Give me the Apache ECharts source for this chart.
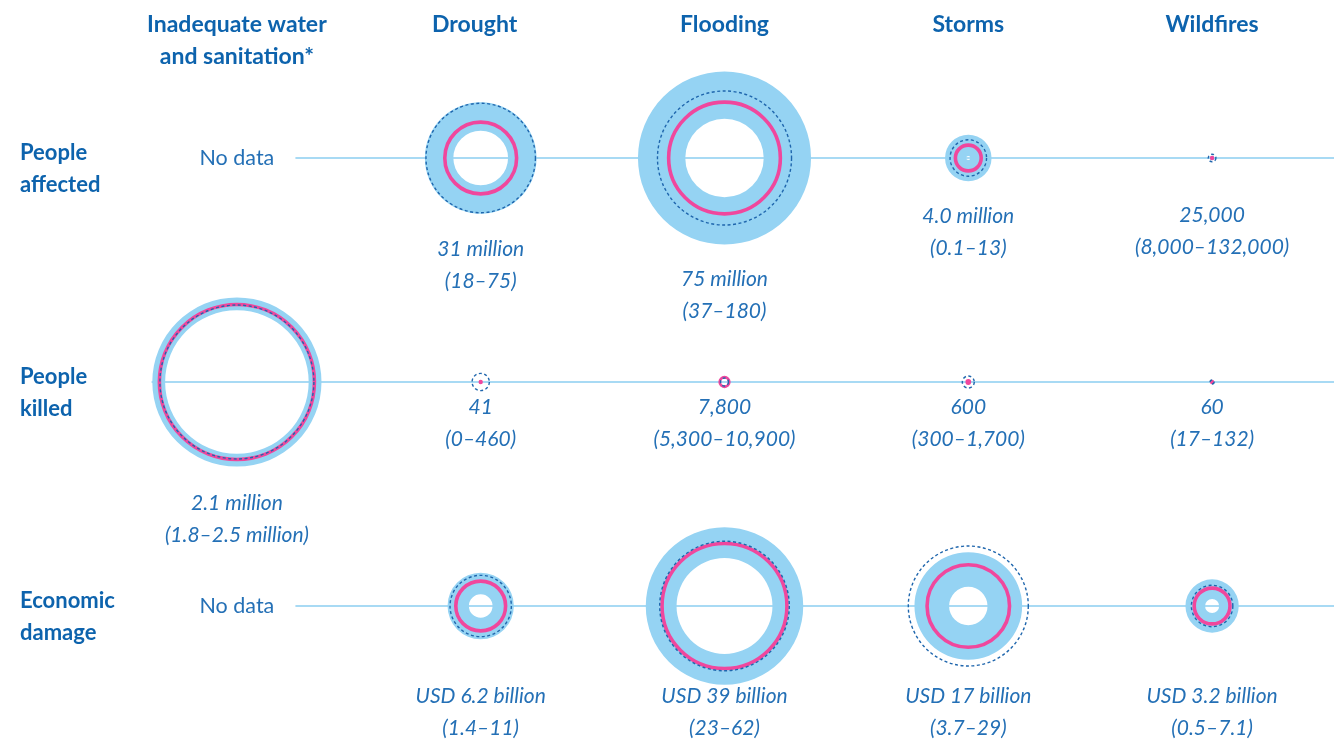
<!DOCTYPE html>
<html>
<head>
<meta charset="utf-8">
<script src="https://cdn.jsdelivr.net/npm/echarts@6/dist/echarts.min.js"></script>
<style>html,body{margin:0;padding:0;background:#fff;}#main{width:1334px;height:740px;}</style>
</head>
<body>
<div id="main"></div>
<script>
// ---- data ----
const columns = ['Inadequate water\nand sanitation*', 'Drought', 'Flooding', 'Storms', 'Wildfires'];
const rows = ['People\naffected', 'People\nkilled', 'Economic\ndamage'];

// People affected (millions)
const affectedCentral = [null, 31, 75, 4.0, 0.025];
const affectedLow     = [null, 18, 37, 0.1, 0.008];
const affectedHigh    = [null, 75, 180, 13, 0.132];
const affectedAlt     = [null, 72, 108, 8, 0.35];
const affectedMain  = ['No data', '31 million', '75 million', '4.0 million', '25,000'];
const affectedRange = ['', '(18–75)', '(37–180)', '(0.1–13)', '(8,000–132,000)'];

// People killed
const killedCentral = [2100000, 41, 7800, 600, 60];
const killedLow     = [1800000, 0, 5300, 300, 17];
const killedHigh    = [2500000, 460, 10900, 1700, 132];
const killedAlt     = [2070000, 26000, 5600, 12500, 1100];
const killedMain  = ['2.1 million', '41', '7,800', '600', '60'];
const killedRange = ['(1.8–2.5 million)', '(0–460)', '(5,300–10,900)', '(300–1,700)', '(17–132)'];

// Economic damage (USD billion)
const damageCentral = [null, 6.2, 39, 17, 3.2];
const damageLow     = [null, 1.4, 23, 3.7, 0.5];
const damageHigh    = [null, 11, 62, 29, 7.1];
const damageAlt     = [null, 9.4, 42, 36, 4.3];
const damageMain  = ['No data', 'USD 6.2 billion', 'USD 39 billion', 'USD 17 billion', 'USD 3.2 billion'];
const damageRange = ['', '(1.4–11)', '(23–62)', '(3.7–29)', '(0.5–7.1)'];

// ---- assembly ----
const central = [affectedCentral, killedCentral, damageCentral];
const low = [affectedLow, killedLow, damageLow];
const high = [affectedHigh, killedHigh, damageHigh];
const alt = [affectedAlt, killedAlt, damageAlt];
const mainText = [affectedMain, killedMain, damageMain];
const rangeText = [affectedRange, killedRange, damageRange];

// styling / scaling per row (radius = k * sqrt(value))
const rowScale = [6.45, 0.0535, 10];
const labelMin = [57, 25, 90];
const labelGap = [35, 37, 0];
const lineStart = [0.24, -0.35, 0.24];

const BLUE_FILL = '#95d3f3';
const PINK = '#f0479d';
const DASH = '#1f66ad';
const LINE = '#a8daf4';
const HEAD = '#0d63ad';
const LABEL = '#2470b6';
const FONT = 'Lato, "Open Sans", sans-serif';

const cells = [];
for (let r = 0; r < rows.length; r++) {
  for (let c = 0; c < columns.length; c++) cells.push([c, r]);
}

const lineSeries = rows.map((_, r) => ({
  type: 'line', silent: true, symbol: 'none', z: 1,
  data: [[lineStart[r], r], [4.5, r]],
  lineStyle: { color: LINE, width: 2 }
}));

function rad(r, v) { return v == null ? null : rowScale[r] * Math.sqrt(Math.max(v, 0)); }

const custom = {
  type: 'custom', z: 5, silent: true,
  data: cells,
  renderItem: function (params, api) {
    const c = api.value(0), r = api.value(1);
    const p = api.coord([c, r]);
    const cx = p[0], cy = p[1];
    const children = [];
    if (r === 0) {
      children.push({ type: 'text', style: { x: cx - (c === 1 ? 6 : 0), y: 9, text: columns[c], fill: HEAD,
        font: 'bold 23px ' + FONT, lineHeight: 32, align: 'center', verticalAlign: 'top' } });
    }
    if (c === 0) {
      children.push({ type: 'text', style: { x: 20, y: cy + 11, text: rows[r], fill: HEAD,
        font: 'bold 22px ' + FONT, lineHeight: 32, align: 'left', verticalAlign: 'middle' } });
    }
    const v = central[r][c];
    if (v == null) {
      children.push({ type: 'text', style: { x: cx, y: cy, text: mainText[r][c], fill: LABEL,
        font: '21.5px ' + FONT, align: 'center', verticalAlign: 'middle' } });
      return { type: 'group', children: children };
    }
    const rc = rad(r, v), rl = rad(r, low[r][c]), rh = rad(r, high[r][c]), ra = rad(r, alt[r][c]);
    children.push({ type: 'ring', shape: { cx: cx, cy: cy, r: rh, r0: Math.min(rl, rh) },
      style: { fill: BLUE_FILL } });
    const pr = Math.max(rc, 2.2);
    const pw = Math.min(3.6, Math.max(1.5, pr * 0.6));
    if (rc < 1.5) {
      children.push({ type: 'circle', shape: { cx: cx, cy: cy, r: Math.max(2.2, rc * 2.2) }, style: { fill: PINK } });
    } else {
      children.push({ type: 'circle', shape: { cx: cx, cy: cy, r: pr },
        style: { fill: 'none', stroke: PINK, lineWidth: pw } });
    }
    children.push({ type: 'circle', shape: { cx: cx, cy: cy, r: Math.max(ra, 2) },
      style: { fill: 'none', stroke: DASH, lineWidth: 1.4, lineDash: [3, 2.5] } });
    const off = rh > 20 ? Math.max(labelMin[r], rh + labelGap[r]) : labelMin[r];
    children.push({ type: 'text', style: { x: cx, y: cy + off - 16, text: mainText[r][c] + '\n' + rangeText[r][c],
      fill: LABEL, font: 'italic 21px ' + FONT, lineHeight: 32, align: 'center', verticalAlign: 'top' } });
    return { type: 'group', children: children };
  }
};

const chart = echarts.init(document.getElementById('main'), null, { renderer: 'canvas' });
chart.setOption({
  animation: false,
  backgroundColor: '#ffffff',
  grid: { left: 115, width: 1230, top: 46, height: 672 },
  xAxis: { type: 'value', min: -0.5, max: 4.5, show: false },
  yAxis: { type: 'value', min: -0.5, max: 2.5, inverse: true, show: false },
  series: lineSeries.concat([custom])
});
</script>
</body>
</html>
